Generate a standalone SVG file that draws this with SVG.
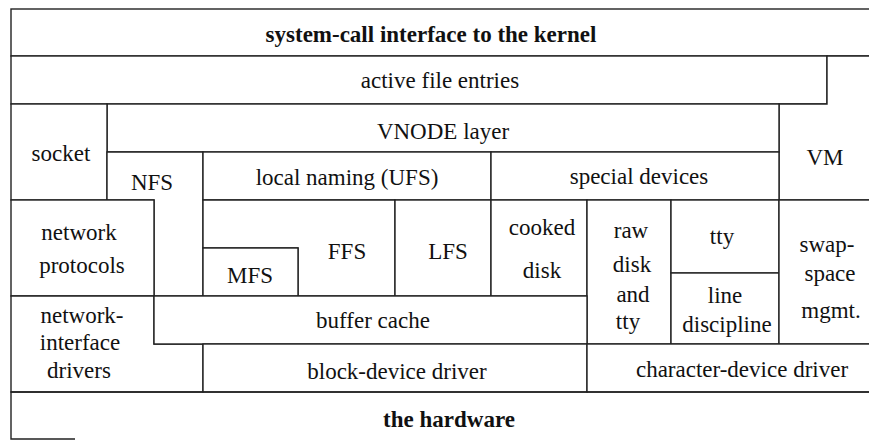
<svg xmlns="http://www.w3.org/2000/svg" width="869" height="441" viewBox="0 0 869 441">
<style>
.b{fill:#fff;stroke:#222;stroke-width:1.4;stroke-linejoin:miter}
.o{fill:none;stroke:#222;stroke-width:1.4}
text{font-family:'Liberation Serif','DejaVu Serif',serif;font-size:23px;fill:#111;text-anchor:middle}
.bold{font-weight:bold}
</style>
<rect width="869" height="441" fill="#fff"/>
<g font-family="Liberation Serif, DejaVu Serif, serif">
<g id="syscall"><rect class="b" x="11" y="9" width="859" height="47"/><text class="bold" x="431" y="42">system-call interface to the kernel</text></g>
<g id="active"><rect class="b" x="11" y="56" width="816" height="48"/><text x="440" y="88">active file entries</text></g>
<g id="vm"><polygon class="b" points="827,56 870,56 870,200 779,200 779,104 827,104"/><text x="825" y="165">VM</text></g>
<g id="vnode"><rect class="b" x="107" y="104" width="672" height="48"/><text x="443" y="139">VNODE layer</text></g>
<g id="socket"><rect class="b" x="11" y="104" width="96" height="96"/><text x="61" y="161">socket</text></g>
<g id="nfs"><polygon class="b" points="107,152 203,152 203,296 154,296 154,200 107,200"/><text x="152" y="190">NFS</text></g>
<g id="local"><rect class="b" x="203" y="152" width="288" height="48"/><text x="347" y="185">local naming (UFS)</text></g>
<g id="special"><rect class="b" x="491" y="152" width="288" height="48"/><text x="639" y="184">special devices</text></g>
<g id="netproto"><rect class="b" x="11" y="200" width="143" height="96"/><text x="79" y="240">network</text><text x="82" y="273">protocols</text></g>
<g id="ffs"><polygon class="b" points="203,200 395,200 395,296 298,296 298,248 203,248"/><text x="347" y="259">FFS</text></g>
<g id="mfs"><rect class="b" x="203" y="248" width="95" height="48"/><text x="250" y="283">MFS</text></g>
<g id="lfs"><rect class="b" x="395" y="200" width="96" height="96"/><text x="448" y="259">LFS</text></g>
<g id="cooked"><rect class="b" x="491" y="200" width="96" height="96"/><text x="542" y="235">cooked</text><text x="542" y="278">disk</text></g>
<g id="raw"><rect class="b" x="587" y="200" width="84" height="144"/><text x="631" y="238">raw</text><text x="632" y="272">disk</text><text x="633" y="302">and</text><text x="628" y="329">tty</text></g>
<g id="tty"><rect class="b" x="671" y="200" width="108" height="73"/><text x="722" y="244">tty</text></g>
<g id="linedisc"><rect class="b" x="671" y="273" width="108" height="71"/><text x="725" y="303">line</text><text x="727" y="332">discipline</text></g>
<g id="swap"><rect class="b" x="779" y="200" width="91" height="144"/><text x="827" y="252">swap-</text><text x="830" y="281">space</text><text x="831" y="318">mgmt.</text></g>
<g id="netif"><polygon class="b" points="11,296 154,296 154,344 203,344 203,392 11,392"/><text x="82" y="323">network-</text><text x="80" y="350">interface</text><text x="79" y="378">drivers</text></g>
<g id="buffer"><rect class="b" x="154" y="296" width="433" height="48"/><text x="373" y="328">buffer cache</text></g>
<g id="block"><rect class="b" x="203" y="344" width="384" height="48"/><text x="397" y="379">block-device driver</text></g>
<g id="chardev"><rect class="b" x="587" y="344" width="283" height="48"/><text x="742" y="377">character-device driver</text></g>
<g id="hardware"><path class="o" d="M870,392 H11 V439 H75"/><text class="bold" x="449" y="427">the hardware</text></g>
</g>
<g id="connectors"></g>
</svg>
